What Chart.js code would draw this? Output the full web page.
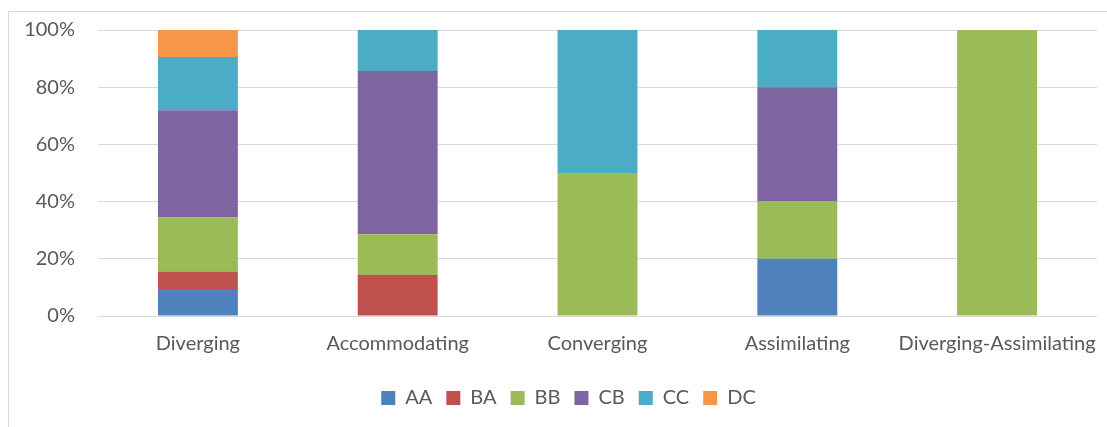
<!DOCTYPE html>
<html>
<head>
<meta charset="utf-8">
<script src="https://cdn.jsdelivr.net/npm/chart.js@4/dist/chart.umd.min.js"></script>
<style>
    html, body { margin: 0; padding: 0; background: #fff; overflow: hidden; }
    #frame {
        position: absolute; left: 8px; top: 11px; width: 1130px; height: 440px;
        border: 1px solid #d9d9d9; box-sizing: border-box;
    }
    #wrap { position: absolute; left: 0; top: 0; width: 1107px; height: 427px; }
</style>
</head>
<body>
<div id="frame"></div>
<div id="wrap"><canvas id="styleChart" width="1107" height="427"></canvas></div>
<script>
// categories and series (percent of each learning style)
const categories = ['Diverging', 'Accommodating', 'Converging', 'Assimilating', 'Diverging-Assimilating'];
const seriesNames = ['AA', 'BA', 'BB', 'CB', 'CC', 'DC'];
const aaValues = [9.4, 0, 0, 20, 0];
const baValues = [6.2, 14.3, 0, 0, 0];
const bbValues = [18.8, 14.3, 50, 20, 100];
const cbValues = [37.5, 57.1, 0, 40, 0];
const ccValues = [18.7, 14.3, 50, 20, 0];
const dcValues = [9.4, 0, 0, 0, 0];
const yTicks = [0, 20, 40, 60, 80, 100];

const seriesColors = ['#4f81bd', '#c0504d', '#9bbb59', '#8064a2', '#4bacc6', '#f79646'];
const seriesValues = [aaValues, baValues, bbValues, cbValues, ccValues, dcValues];

const textColor = '#595959';
const fontFamily = 'Lato, "Liberation Sans", sans-serif';

// shift the legend so it is centred on the full frame like the original
const legendShift = {
    id: 'legendShift',
    afterLayout(chart) {
        const dx = 20;
        chart.legend.left += dx;
        chart.legend.right += dx;
    }
};

const ctx = document.getElementById('styleChart');
new Chart(ctx.getContext('2d'), {
    type: 'bar',
    data: {
        labels: categories,
        datasets: seriesNames.map((name, i) => ({
            label: name,
            data: seriesValues[i],
            backgroundColor: seriesColors[i],
            borderWidth: 0,
            barPercentage: 0.4,
            categoryPercentage: 1
        }))
    },
    options: {
        responsive: false,
        animation: false,
        layout: { padding: { left: 0, right: 10, top: 30, bottom: 9 } },
        plugins: {
            tooltip: { enabled: false },
            legend: {
                position: 'bottom',
                labels: {
                    boxWidth: 14,
                    boxHeight: 14,
                    padding: 14,
                    color: textColor,
                    font: { family: fontFamily, size: 20 }
                }
            }
        },
        scales: {
            x: {
                stacked: true,
                grid: { display: false, drawTicks: false },
                border: { display: false },
                ticks: {
                    color: textColor,
                    padding: 16,
                    maxRotation: 0,
                    autoSkip: false,
                    font: { family: fontFamily, size: 20 }
                },
                afterFit(scale) {
                    scale.height = 58;
                    scale.paddingLeft = 0;
                    scale.paddingRight = 0;
                }
            },
            y: {
                stacked: true,
                min: 0,
                max: 100,
                grid: { color: '#d9d9d9', lineWidth: 1, drawTicks: false },
                border: { display: false },
                afterBuildTicks(scale) { scale.ticks = yTicks.map(v => ({ value: v })); },
                ticks: {
                    color: textColor,
                    padding: 23,
                    font: { family: fontFamily, size: 20 },
                    callback: v => v + '%'
                },
                afterFit(scale) {
                    scale.width = 98;
                    scale.paddingTop = 0;
                    scale.paddingBottom = 0;
                }
            }
        }
    },
    plugins: [legendShift]
});
</script>
</body>
</html>
